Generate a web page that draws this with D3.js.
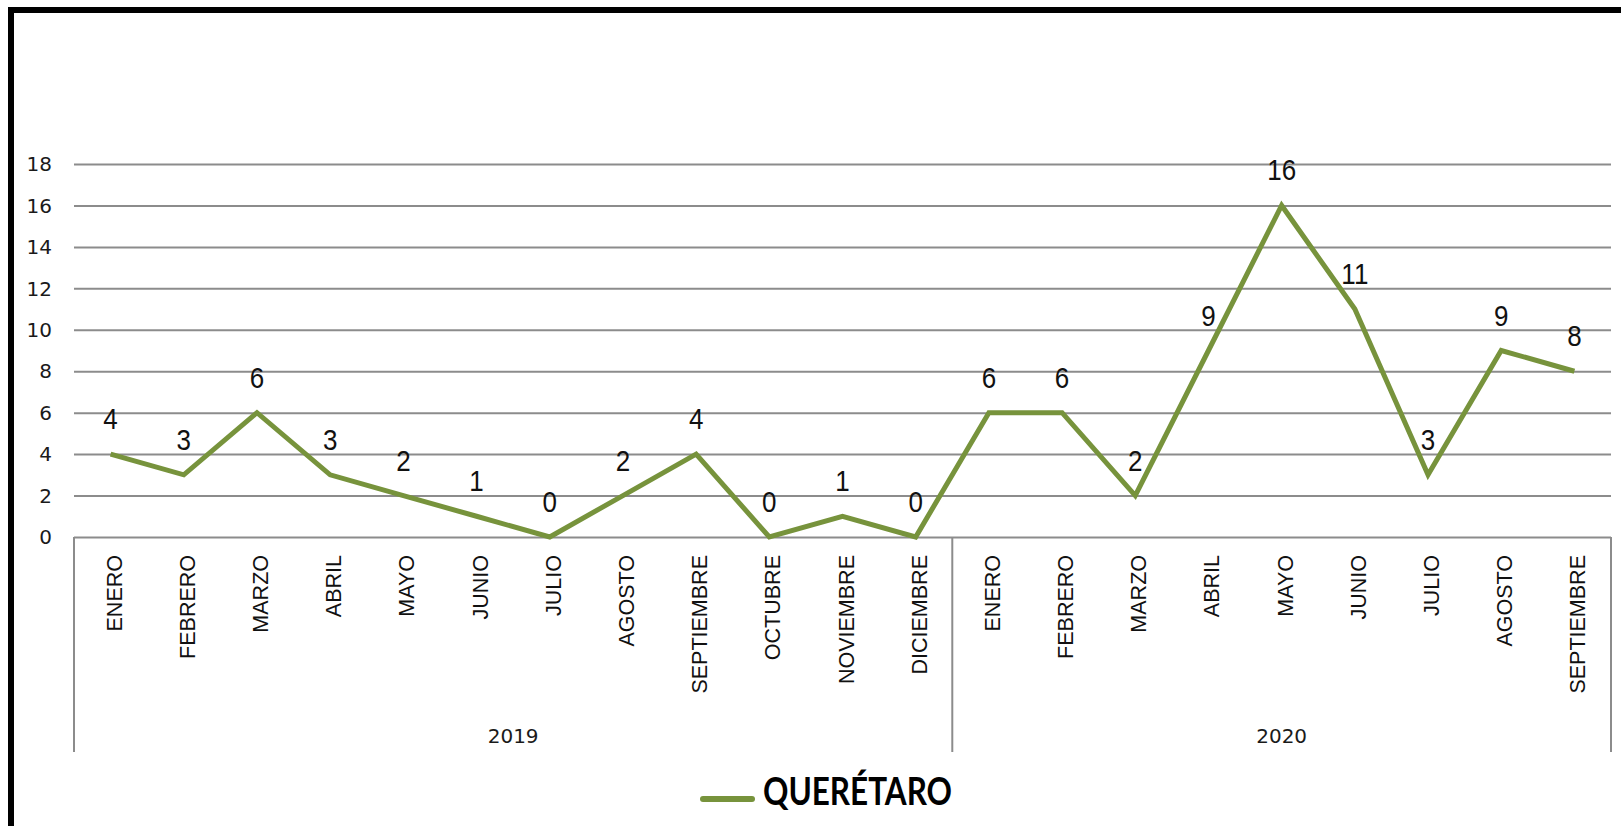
<!DOCTYPE html>
<html>
<head>
<meta charset="utf-8">
<script src="https://d3js.org/d3.v7.min.js"></script>
<style>
    body { margin: 0; background: #fff; }
    svg { display: block; }
</style>
</head>
<body>
<div id="dashboard"></div>
<script>
// --------- DATA ---------
let months2019 = ["ENERO", "FEBRERO", "MARZO", "ABRIL", "MAYO", "JUNIO", "JULIO",
                  "AGOSTO", "SEPTIEMBRE", "OCTUBRE", "NOVIEMBRE", "DICIEMBRE"];
let months2020 = ["ENERO", "FEBRERO", "MARZO", "ABRIL", "MAYO", "JUNIO", "JULIO",
                  "AGOSTO", "SEPTIEMBRE"];
let values2019 = [4, 3, 6, 3, 2, 1, 0, 2, 4, 0, 1, 0];
let values2020 = [6, 6, 2, 9, 16, 11, 3, 9, 8];
let years = ["2019", "2020"];
let yTicks = [0, 2, 4, 6, 8, 10, 12, 14, 16, 18];
let seriesName = "QUERÉTARO";

// --------- GRAPHING ---------
function chart() {
    let width = 1621, height = 826;
    let left = 74, right = 1611, top = 164, bottom = 537, groupBottom = 752;
    let green = "#77933c";

    let data = [];
    months2019.forEach((m, i) => data.push({year: years[0], month: m, value: values2019[i]}));
    months2020.forEach((m, i) => data.push({year: years[1], month: m, value: values2020[i]}));
    data.forEach((d, i) => d.key = i);

    let svg = d3.select("#dashboard")
        .append("svg")
        .attr("width", width)
        .attr("height", height);

    // black frame (top and left only)
    svg.append("rect").attr("x", 8).attr("y", 7).attr("width", width - 8).attr("height", 6).attr("fill", "#000");
    svg.append("rect").attr("x", 8).attr("y", 7).attr("width", 6).attr("height", height - 7).attr("fill", "#000");

    // Scales
    let xScale = d3.scaleBand()
        .domain(data.map(d => d.key))
        .range([left, right]);

    let yScale = d3.scaleLinear()
        .domain([0, 18])
        .range([bottom, top]);

    // Gridlines
    let yGrid = d3.axisLeft(yScale)
        .tickValues(yTicks)
        .tickFormat("")
        .tickSizeInner(-(right - left))
        .tickSizeOuter(0);

    let grid = svg.append("g")
        .attr("transform", "translate(" + left + ",0)")
        .call(yGrid);
    grid.select(".domain").remove();
    grid.selectAll("line").attr("stroke", "#8c8c8c").attr("stroke-width", 2);

    // Y labels
    svg.append("g").selectAll("text")
        .data(yTicks)
        .join("text")
        .attr("x", 52)
        .attr("y", d => yScale(d))
        .attr("dy", "0.36em")
        .attr("text-anchor", "end")
        .attr("font-family", "DejaVu Sans, Verdana, sans-serif")
        .attr("font-size", 20)
        .attr("fill", "#1a1a1a")
        .text(d => d);

    // Year group separators
    let groupEdges = [left, xScale(months2019.length), right];
    svg.append("g").selectAll("line")
        .data(groupEdges)
        .join("line")
        .attr("x1", d => d).attr("x2", d => d)
        .attr("y1", bottom).attr("y2", groupBottom)
        .attr("stroke", "#8c8c8c")
        .attr("stroke-width", 2);

    // Month labels
    svg.append("g").selectAll("text")
        .data(data)
        .join("text")
        .attr("transform", d => "translate(" + (xScale(d.key) + xScale.bandwidth() / 2 + 11) + ",555) rotate(-90)")
        .attr("text-anchor", "end")
        .attr("font-family", "Liberation Sans, Arial, sans-serif")
        .attr("font-size", 21.5)
        .attr("fill", "#111")
        .text(d => d.month);

    // Year labels
    svg.append("g").selectAll("text")
        .data(years)
        .join("text")
        .attr("x", (d, i) => (groupEdges[i] + groupEdges[i + 1]) / 2)
        .attr("y", 743)
        .attr("text-anchor", "middle")
        .attr("font-family", "DejaVu Sans, Verdana, sans-serif")
        .attr("font-size", 20)
        .attr("fill", "#1a1a1a")
        .text(d => d);

    // Chart line
    let line = d3.line()
        .x(d => xScale(d.key) + xScale.bandwidth() / 2)
        .y(d => yScale(d.value));

    svg.append("path")
        .attr("fill", "none")
        .attr("stroke", green)
        .attr("stroke-width", 5)
        .attr("stroke-linejoin", "miter")
        .attr("d", line(data));

    // Data labels
    svg.append("g").selectAll("text")
        .data(data)
        .join("text")
        .attr("transform", d => "translate(" + (xScale(d.key) + xScale.bandwidth() / 2) + "," + (yScale(d.value) - 25) + ") scale(1,1.17)")
        .attr("text-anchor", "middle")
        .attr("font-family", "Liberation Sans, Arial, sans-serif")
        .attr("font-size", 26)
        .attr("fill", "#111")
        .text(d => d.value);

    // Legend
    svg.append("line")
        .attr("x1", 703).attr("x2", 752)
        .attr("y1", 799).attr("y2", 799)
        .attr("stroke", green)
        .attr("stroke-width", 6)
        .attr("stroke-linecap", "round");

    svg.append("text")
        .attr("x", 763)
        .attr("y", 805)
        .attr("font-family", "Lato, Open Sans, sans-serif")
        .attr("font-weight", "bold")
        .attr("font-size", 38)
        .attr("textLength", 189)
        .attr("lengthAdjust", "spacingAndGlyphs")
        .attr("fill", "#000")
        .text(seriesName);
}

chart();
</script>
</body>
</html>
